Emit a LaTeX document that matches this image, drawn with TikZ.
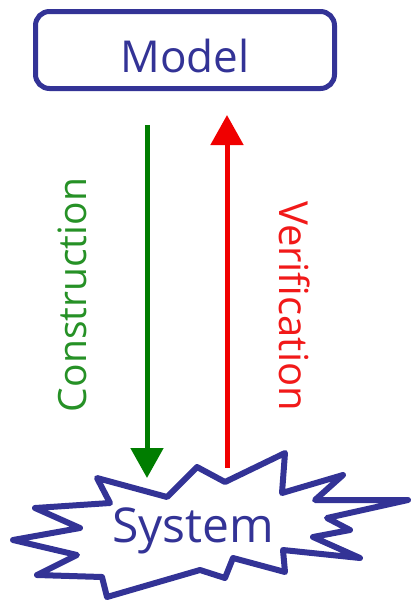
\documentclass[tikz,border=0pt]{standalone}
\usepackage{fontspec}
\setmainfont{Open Sans}
\usepackage{xcolor}
\usepackage{tikz}
\usetikzlibrary{arrows.meta,positioning}

\definecolor{inkblue}{RGB}{51,51,150}
\definecolor{buildgreen}{RGB}{0,125,0}
\definecolor{checkred}{RGB}{240,0,0}

\begin{document}
\begin{tikzpicture}[
        x=1pt, y=-1pt,
        modelbox/.style={draw=inkblue, line width=5pt, rounded corners=14pt,
                         minimum width=299pt, minimum height=77pt,
                         text height=45pt, text depth=0pt,
                         text=inkblue, font=\fontsize{44}{50}\selectfont},
        burst/.style={draw=inkblue, line width=6pt, line join=round},
        flow/.style={line width=5pt, -{Triangle[length=30pt,width=32pt]}},
        tag/.style={font=\fontsize{39}{44}\selectfont}
    ]
        \useasboundingbox (0,0) rectangle (411,600);

        \node[modelbox] (model) at (185,50) {Model};

        % the system burst
        \draw[burst] (97,478) -- (167,497) -- (197,467) -- (225,482) -- (285,453)
            -- (282,493) -- (343,475) -- (315,500) -- (408,500) -- (327,518)
            -- (350,530) -- (313,537) -- (360,558) -- (283,550) -- (285,572)
            -- (233,558) -- (225,578) -- (200,570) -- (107,597) -- (102,577)
            -- (37,575) -- (77,555) -- (13,540) -- (80,528) -- (35,508)
            -- (110,503) -- cycle;
        \node[text=inkblue, font=\fontsize{48}{54}\selectfont, anchor=base]
            (system) at (193,542) {System};

        \coordinate (downfrom) at (147,125);
        \coordinate (downto)   at (147,478);
        \coordinate (upfrom)   at (227,468);
        \coordinate (upto)     at (227,115);

        \draw[flow, buildgreen] (downfrom) -- (downto);
        \draw[flow, checkred]   (upfrom) -- (upto);

        \node[tag, text=buildgreen!85!white, rotate=90]  (build) at (72,295)  {Construction};
        \node[tag, text=checkred!90!white,  rotate=-90, font=\fontsize{40}{46}\selectfont]
            (check) at (295,306) {Verification};
\end{tikzpicture}
\end{document}
